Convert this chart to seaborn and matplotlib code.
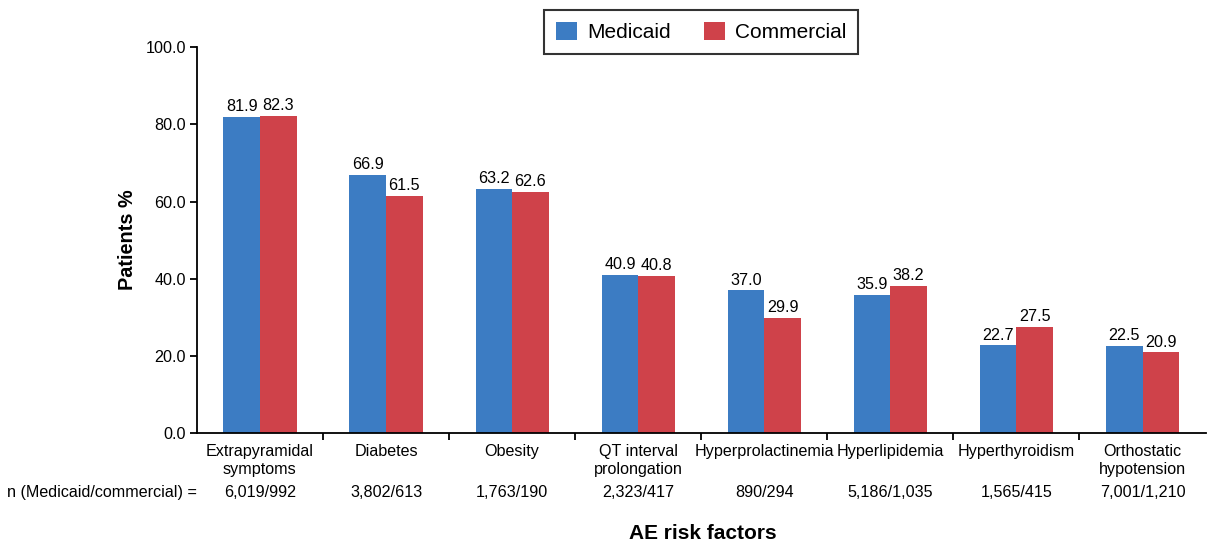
import matplotlib
matplotlib.use("Agg")
import matplotlib.pyplot as plt
import seaborn as sns
import pandas as pd

categories = ["Extrapyramidal\nsymptoms", "Diabetes", "Obesity", "QT interval\nprolongation",
              "Hyperprolactinemia", "Hyperlipidemia", "Hyperthyroidism", "Orthostatic\nhypotension"]
medicaid = [81.9, 66.9, 63.2, 40.9, 37.0, 35.9, 22.7, 22.5]
commercial = [82.3, 61.5, 62.6, 40.8, 29.9, 38.2, 27.5, 20.9]
n_labels = ["6,019/992", "3,802/613", "1,763/190", "2,323/417", "890/294",
            "5,186/1,035", "1,565/415", "7,001/1,210"]
series = ["Medicaid", "Commercial"]
colors = ["#3C7CC3", "#CF424A"]

df = pd.DataFrame({
    "category": categories * 2,
    "value": medicaid + commercial,
    "group": [series[0]] * len(categories) + [series[1]] * len(categories),
})

sns.set_theme(style="white")
plt.rcParams["font.family"] = ["Liberation Sans", "DejaVu Sans"]
plt.rcParams["text.color"] = "black"
plt.rcParams["axes.labelcolor"] = "black"
plt.rcParams["xtick.color"] = "black"
plt.rcParams["ytick.color"] = "black"

FS = 11.6

fig = plt.figure(figsize=(12.08, 5.44), dpi=100)
ax = fig.add_axes([0.163, 0.204, 0.835, 0.709])

sns.barplot(data=df, x="category", y="value", hue="group", palette=colors,
            width=0.58, ax=ax, saturation=1, legend=True, linewidth=0)

for cont in ax.containers:
    ax.bar_label(cont, labels=[f"{v:.1f}" for v in cont.datavalues], padding=2,
                 fontsize=FS, color="black")

ax.set_xlim(-0.5, len(categories) - 0.5)
ax.set_ylim(0, 100)
ax.set_yticks([0, 20, 40, 60, 80, 100])
ax.set_yticklabels([f"{v:.1f}" for v in [0, 20, 40, 60, 80, 100]], fontsize=FS)

# category labels centered, tick marks at category boundaries
ax.set_xticks(range(len(categories)))
ax.set_xticklabels(categories, fontsize=FS, linespacing=1.2)
ax.tick_params(axis="x", which="major", length=0, pad=8)
ax.set_xticks([i - 0.5 for i in range(1, len(categories))], minor=True)
ax.tick_params(axis="x", which="minor", length=5, width=1.3, color="black", direction="out", bottom=True)
ax.tick_params(axis="y", length=5, width=1.3, color="black", direction="out", left=True, pad=3)

for side in ["top", "right"]:
    ax.spines[side].set_visible(False)
for side in ["left", "bottom"]:
    ax.spines[side].set_color("black")
    ax.spines[side].set_linewidth(1.3)

ax.set_ylabel("Patients %", fontsize=14.3, fontweight="bold", labelpad=6)
ax.set_xlabel("")

# sample size row
trans = ax.get_xaxis_transform()
for i, lab in enumerate(n_labels):
    ax.text(i, -0.155, lab, transform=trans, ha="center", va="center", fontsize=FS)
ax.text(-0.5, -0.155, "n (Medicaid/commercial) =", transform=trans,
        ha="right", va="center", fontsize=FS)

fig.text(0.582, 0.02, "AE risk factors", ha="center", va="center", fontsize=15, fontweight="bold")

leg = ax.legend(title=None, loc="upper center", bbox_to_anchor=(0.5, 1.123), ncol=2,
                fontsize=15, frameon=True, fancybox=False, edgecolor="black",
                handlelength=1.0, handleheight=1.0, columnspacing=1.6, handletextpad=0.5,
                borderpad=0.55)
leg.get_frame().set_linewidth(1.5)

fig.savefig("out.png", dpi=100)
